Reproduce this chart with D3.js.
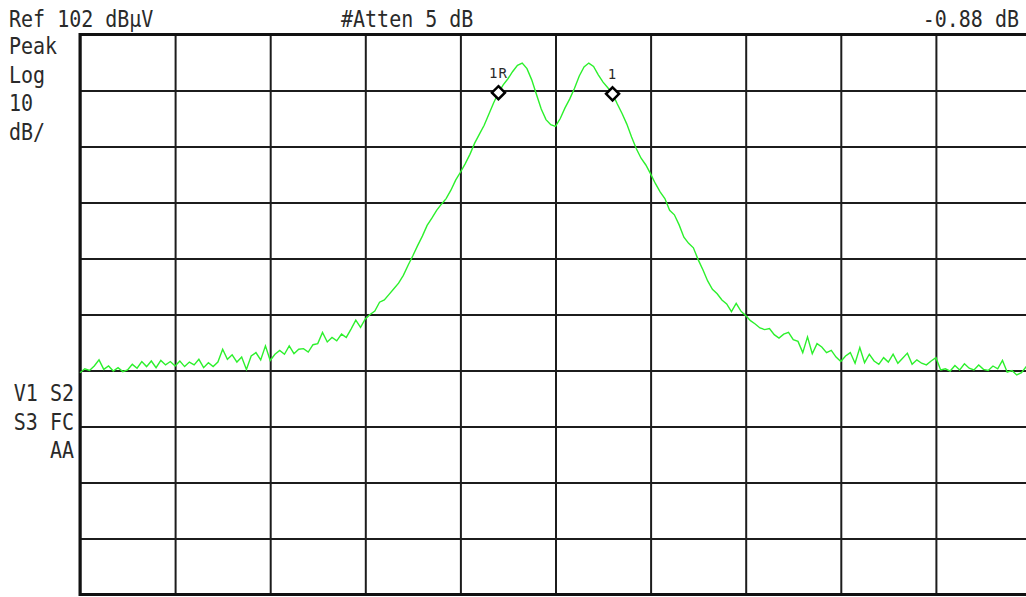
<!DOCTYPE html>
<html>
<head>
<meta charset="utf-8">
<script src="https://cdn.jsdelivr.net/npm/d3@7"></script>
<style>
  body { margin: 0; background: #fff; overflow: hidden; }
  text { font-family: "DejaVu Sans Mono", monospace; fill: #2a2a2a; }
</style>
</head>
<body>
<div id="screen"></div>
<script>
// analyzer settings / annotations
var refLevel = 102, dbPerDiv = 10, numDiv = 10;
var headerLeft = "Ref 102 dBµV", headerMid = "#Atten 5 dB", headerRight = "-0.88 dB";
var sideTop = ["Peak", "Log", "10", "dB/"];
var sideBottom = ["V1 S2", "S3 FC", "AA"];

// trace, dBuV, one value every 0.05 division
var traceLevel = [
  41.6,42.3,42.0,42.8,43.9,42.2,42.8,41.9,42.5,41.8,
  42.1,43.1,42.4,43.6,42.7,43.7,42.5,43.8,43.0,43.6,
  42.8,43.7,42.7,43.5,43.0,44.0,42.5,43.4,42.7,43.5,
  45.8,44.0,44.8,43.5,44.4,42.2,44.6,45.2,43.9,46.4,
  43.8,44.9,45.6,44.9,46.4,45.0,45.8,45.9,45.3,46.6,
  46.8,48.8,47.1,47.9,47.3,48.5,47.9,49.4,51.0,49.7,
  51.2,52.0,52.6,54.2,54.6,55.6,56.6,57.6,59.0,60.8,
  62.5,64.3,66.0,67.9,69.2,70.6,71.7,72.7,74.2,76.0,
  77.4,78.9,80.6,82.6,84.2,85.8,87.8,89.8,91.6,93.0,
  94.1,95.4,96.5,96.9,95.9,93.9,91.3,88.7,86.8,85.9,
  85.6,87.0,88.9,90.5,92.4,94.6,96.2,96.9,96.3,94.8,
  93.5,92.5,91.4,89.6,87.9,86.0,83.7,81.6,79.9,78.7,
  77.1,75.4,73.9,72.7,70.6,69.8,68.0,65.8,64.7,63.9,
  61.8,60.0,58.0,56.5,55.7,54.6,53.9,52.5,54.0,52.6,
  51.8,50.9,50.3,49.6,49.3,49.5,48.4,47.8,48.5,48.8,
  47.5,47.2,45.2,48.0,45.0,46.8,46.2,45.2,45.6,44.4,
  43.6,44.6,45.2,43.3,46.1,43.4,44.9,43.7,43.1,44.3,
  43.5,44.9,43.3,44.2,45.1,43.1,43.9,43.3,43.0,43.7,
  44.3,42.1,42.3,41.9,42.9,42.1,43.2,42.4,42.1,43.0,
  42.2,42.0,42.8,42.3,43.8,41.7,42.0,41.2,41.6,42.7,
  42.3
];
var traceStep = 0.05;

// markers: trace index and label
var markerIndex = [88, 112];
var markerLabel = ["1R", "1"];

var W = 1026, H = 597;
var margin = {top: 34.5, left: 80, right: -5, bottom: 2.5};
var width = W - margin.left - margin.right,
    height = H - margin.top - margin.bottom;

var svg = d3.select("#screen").append("svg")
  .attr("width", W).attr("height", H);

var g = svg.append("g")
  .attr("transform", "translate(" + margin.left + "," + margin.top + ")");

var x = d3.scaleLinear().domain([0, numDiv]).range([0, width]);
var y = d3.scaleLinear().domain([refLevel - dbPerDiv * numDiv, refLevel]).range([height, 0]);

// graticule
g.append("g")
  .attr("transform", "translate(0," + height + ")")
  .call(d3.axisBottom(x).tickValues(d3.range(0, numDiv + 1)).tickSize(-height).tickFormat(""))
  .call(function(a) {
    a.select(".domain").remove();
    a.selectAll("line").attr("stroke", "#1c1c1c").attr("stroke-width", 2);
  });
g.append("g")
  .call(d3.axisLeft(y).tickValues(d3.range(refLevel - dbPerDiv * numDiv, refLevel + 1, dbPerDiv)).tickSize(-width).tickFormat(""))
  .call(function(a) {
    a.select(".domain").remove();
    a.selectAll("line").attr("stroke", "#1c1c1c").attr("stroke-width", 2);
  });
// heavier frame
g.append("path")
  .attr("d", "M" + x(numDiv) + "," + y(refLevel) + "H" + x(0) + "V" + y(refLevel - 100) + "H" + x(numDiv))
  .attr("fill", "none").attr("stroke", "#111").attr("stroke-width", 3);

// trace
g.append("path")
  .datum(traceLevel)
  .attr("fill", "none")
  .attr("stroke", "#2cf02c")
  .attr("stroke-width", 1.4)
  .attr("d", d3.line()
    .x(function(d, i) { return x(i * traceStep); })
    .y(function(d) { return y(d); }));

// markers
var mk = g.selectAll(".marker")
  .data(markerIndex)
  .enter().append("g")
  .attr("transform", function(d) { return "translate(" + x(d * traceStep) + "," + y(traceLevel[d]) + ")"; });
mk.append("path")
  .attr("d", "M0,-6.5L6.5,0L0,6.5L-6.5,0Z")
  .attr("fill", "#fff").attr("stroke", "#000").attr("stroke-width", 2.5);
mk.append("text")
  .attr("y", -15)
  .attr("text-anchor", "middle")
  .attr("font-size", 14)
  .attr("letter-spacing", 1)
  .text(function(d, i) { return markerLabel[i]; });

// annotation text (tall narrow font)
function label(str, px, py, anchor) {
  svg.append("text")
    .attr("transform", "translate(" + px + "," + py + ") scale(1,1.17)")
    .attr("font-size", 20)
    .attr("text-anchor", anchor || "start")
    .text(str);
}
label(headerLeft, 9, 27);
label(headerMid, 341, 27);
label(headerRight, 1019, 27, "end");
sideTop.forEach(function(s, i) { label(s, 9, 54 + i * 28.7); });
sideBottom.forEach(function(s, i) { label(s, 74, 401 + i * 28.5, "end"); });
</script>
</body>
</html>
